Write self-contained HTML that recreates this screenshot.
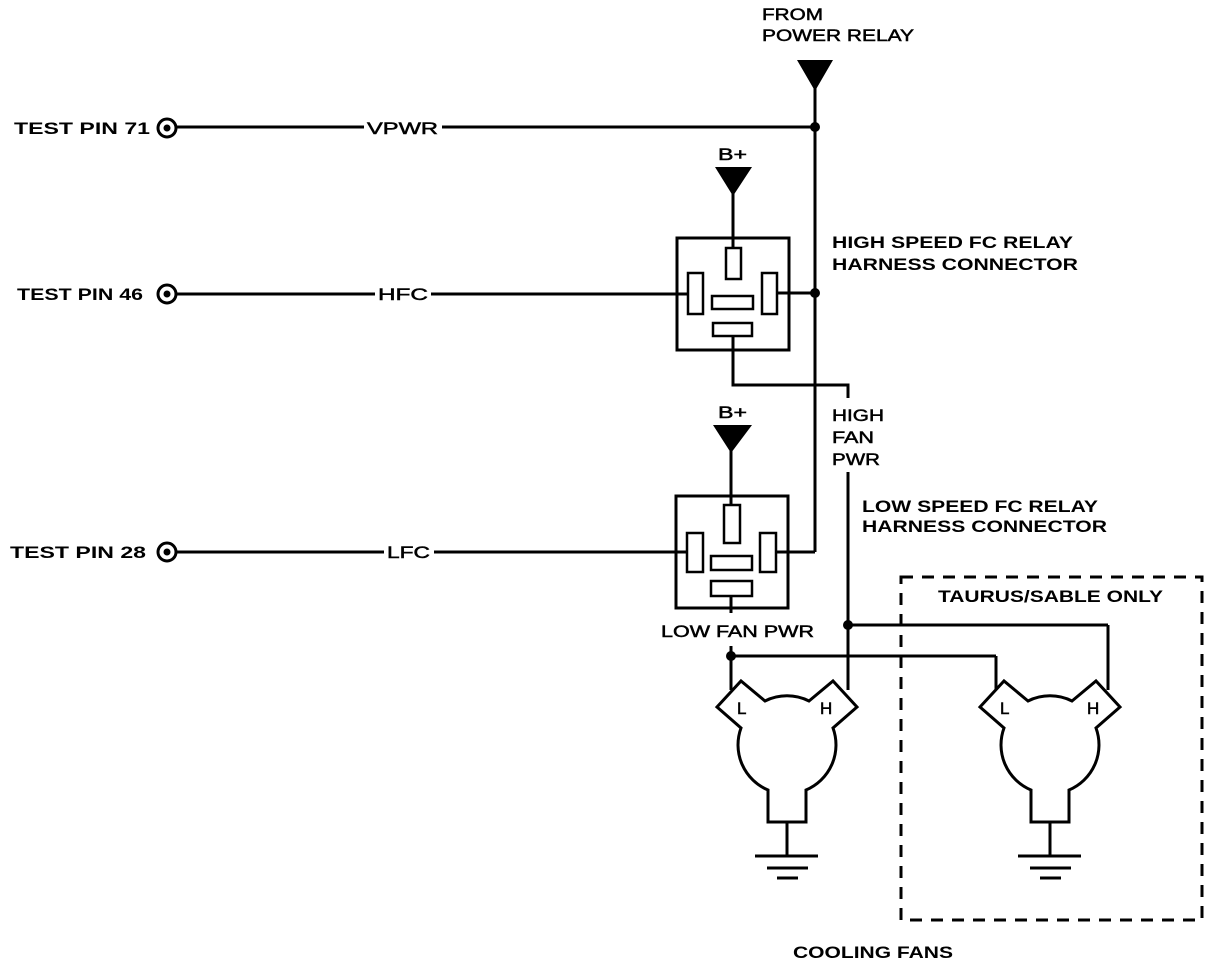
<!DOCTYPE html>
<html><head><meta charset="utf-8"><style>
html,body{margin:0;padding:0;background:#fff;}
svg{display:block;}
text{font-family:"Liberation Sans",Arial,sans-serif;fill:#000;font-weight:bold;}
.b{font-size:17px;}
.n{font-size:17px;font-weight:normal;stroke:#000;stroke-width:0.5px;}
</style></head><body>
<svg width="1216" height="966" viewBox="0 0 1216 966" xmlns="http://www.w3.org/2000/svg">
<g stroke="#000" stroke-width="3" fill="none">
<line x1="176" y1="127" x2="815" y2="127"/>
<line x1="176" y1="294" x2="688" y2="294"/>
<line x1="176" y1="552" x2="687" y2="552"/>
<circle cx="167" cy="128" r="9"/>
<circle cx="167" cy="294" r="9"/>
<circle cx="167" cy="552" r="9"/>
<line x1="815" y1="88" x2="815" y2="552"/>
<line x1="776" y1="552" x2="815" y2="552"/>
<line x1="777" y1="293" x2="815" y2="293"/>
<rect x="677" y="238" width="112" height="112"/>
<rect x="726" y="248" width="15" height="31" stroke-width="2.5"/>
<rect x="688" y="273" width="15" height="41" stroke-width="2.5"/>
<rect x="762" y="273" width="15" height="41" stroke-width="2.5"/>
<rect x="712" y="296" width="41" height="13" stroke-width="2.5"/>
<rect x="713" y="323" width="39" height="13" stroke-width="2.5"/>
<line x1="733" y1="192" x2="733" y2="248"/>
<polyline points="733,336 733,385 848,385 848,398"/>
<line x1="848" y1="472" x2="848" y2="690"/>
<rect x="676" y="496" width="112" height="112"/>
<rect x="724" y="505" width="16" height="38" stroke-width="2.5"/>
<rect x="687" y="533" width="16" height="39" stroke-width="2.5"/>
<rect x="760" y="533" width="16" height="39" stroke-width="2.5"/>
<rect x="711" y="556" width="41" height="14" stroke-width="2.5"/>
<rect x="711" y="581" width="41" height="15" stroke-width="2.5"/>
<line x1="731" y1="450" x2="731" y2="505"/>
<line x1="731" y1="596" x2="731" y2="613"/>
<line x1="731" y1="646" x2="731" y2="690"/>
<line x1="731" y1="656" x2="996" y2="656"/>
<line x1="996" y1="656" x2="996" y2="690"/>
<line x1="848" y1="625" x2="1108" y2="625"/>
<line x1="1108" y1="625" x2="1108" y2="690"/>
<g id="fan">
<path d="M768,790 A49,49 0 0 1 741,728 L717,707 L741,681 L765,701 A49,49 0 0 1 809,701 L833,681 L857,707 L833,728 A49,49 0 0 1 806,790 L806,822 L768,822 Z"/>
<line x1="787" y1="822" x2="787" y2="856"/>
<line x1="755" y1="856" x2="818" y2="856"/>
<line x1="767" y1="868" x2="808" y2="868"/>
<line x1="777" y1="878" x2="798" y2="878"/>
</g>
<use href="#fan" transform="translate(263,0)"/>
<rect x="901" y="577" width="301" height="343" stroke-dasharray="12,9"/>
</g>
<g fill="#000">
<circle cx="167" cy="128" r="3.5"/>
<circle cx="167" cy="294" r="3.5"/>
<circle cx="167" cy="552" r="3.5"/>
<circle cx="815" cy="127" r="5"/>
<circle cx="815" cy="293" r="5"/>
<circle cx="848" cy="625" r="5"/>
<circle cx="731" cy="656" r="5"/>
<polygon points="797,60 833,60 815,91"/>
<polygon points="715,167 752,167 733,196"/>
<polygon points="713,425 752,425 731,453"/>
</g>
<g fill="#fff">
<rect x="364" y="117" width="78" height="20"/>
<rect x="375" y="284" width="56" height="20"/>
<rect x="384" y="542" width="50" height="20"/>
</g>
<text class="b" x="14" y="134" textLength="136" lengthAdjust="spacingAndGlyphs">TEST PIN 71</text>
<text class="b" x="17" y="300" textLength="126" lengthAdjust="spacingAndGlyphs">TEST PIN 46</text>
<text class="b" x="10" y="558" textLength="136" lengthAdjust="spacingAndGlyphs">TEST PIN 28</text>
<text class="n" x="367" y="134" textLength="71" lengthAdjust="spacingAndGlyphs">VPWR</text>
<text class="n" x="378" y="300" textLength="50" lengthAdjust="spacingAndGlyphs">HFC</text>
<text class="n" x="387" y="558" textLength="43" lengthAdjust="spacingAndGlyphs">LFC</text>
<text class="n" x="762" y="20" textLength="61" lengthAdjust="spacingAndGlyphs">FROM</text>
<text class="n" x="762" y="41" textLength="152" lengthAdjust="spacingAndGlyphs">POWER RELAY</text>
<text class="n" x="718" y="160" textLength="29" lengthAdjust="spacingAndGlyphs">B+</text>
<text class="n" x="718" y="418" textLength="29" lengthAdjust="spacingAndGlyphs">B+</text>
<text class="b" x="832" y="248" textLength="241" lengthAdjust="spacingAndGlyphs">HIGH SPEED FC RELAY</text>
<text class="b" x="832" y="270" textLength="246" lengthAdjust="spacingAndGlyphs">HARNESS CONNECTOR</text>
<text class="n" x="832" y="421" textLength="52" lengthAdjust="spacingAndGlyphs">HIGH</text>
<text class="n" x="832" y="443" textLength="42" lengthAdjust="spacingAndGlyphs">FAN</text>
<text class="n" x="832" y="465" textLength="48" lengthAdjust="spacingAndGlyphs">PWR</text>
<text class="b" x="862" y="512" textLength="236" lengthAdjust="spacingAndGlyphs">LOW SPEED FC RELAY</text>
<text class="b" x="862" y="532" textLength="245" lengthAdjust="spacingAndGlyphs">HARNESS CONNECTOR</text>
<text class="n" x="661" y="637" textLength="153" lengthAdjust="spacingAndGlyphs">LOW FAN PWR</text>
<text class="b" x="938" y="602" textLength="225" lengthAdjust="spacingAndGlyphs">TAURUS/SABLE ONLY</text>
<text class="n" x="737" y="714">L</text>
<text class="n" x="820" y="714">H</text>
<text class="n" x="1000" y="714">L</text>
<text class="n" x="1087" y="714">H</text>
<text class="b" x="793" y="958" textLength="160" lengthAdjust="spacingAndGlyphs">COOLING FANS</text>
</svg>
</body></html>
